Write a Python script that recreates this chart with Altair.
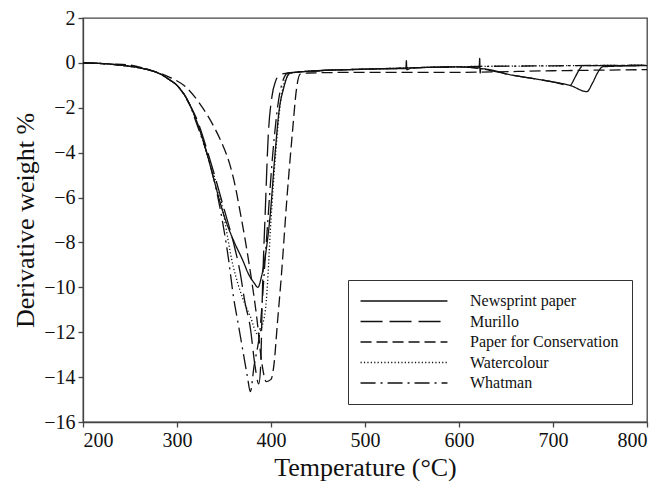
import altair as alt
import pandas as pd

series_names = ["Newsprint paper", "Murillo", "Paper for Conservation", "Watercolour", "Whatman"]
dashes = [[1, 0], [22, 7], [11, 5], [1.2, 2.2], [15, 5, 2, 5]]

x_ticks = [200, 300, 400, 500, 600, 700, 800]
y_ticks = [2, 0, -2, -4, -6, -8, -10, -12, -14, -16]

newsprint_t = [200, 220, 240, 260, 271, 280, 292, 300, 314, 320, 331, 338, 350, 360, 370, 376, 382, 386, 390, 395, 399, 404, 409, 413, 420, 450, 500, 543.5, 544, 544.5, 550, 600, 621.5, 622, 622.5, 623, 657, 675, 700, 718, 736, 742, 748, 753, 800]
newsprint_v = [0, -0.03, -0.1, -0.22, -0.32, -0.45, -0.75, -1.0, -1.9, -2.5, -3.9, -5.0, -6.8, -7.9, -8.8, -9.4, -9.8, -10.0, -9.5, -8.3, -6.85, -4.2, -2.0, -1.2, -0.45, -0.35, -0.28, -0.25, 0.1, -0.3, -0.22, -0.18, -0.22, 0.2, -0.45, -0.26, -0.55, -0.67, -0.85, -1.0, -1.28, -0.9, -0.4, -0.17, -0.12]

murillo_t = [200, 220, 240, 260, 271, 280, 292, 300, 314, 320, 335, 350, 360, 367, 372, 378, 383, 387, 389, 391, 394, 397, 401, 405, 410, 450, 500, 550, 600, 622, 657, 675, 700, 718, 724, 728, 732, 800]
murillo_v = [0, -0.03, -0.1, -0.22, -0.32, -0.45, -0.75, -1.0, -1.9, -2.4, -4.3, -6.5, -8.0, -9.3, -10.6, -11.8, -13.5, -14.3, -13.5, -10.0, -6.5, -3.3, -1.5, -0.8, -0.5, -0.35, -0.28, -0.22, -0.18, -0.25, -0.55, -0.67, -0.85, -1.0, -0.6, -0.3, -0.12, -0.12]

conservation_t = [200, 230, 250, 271, 290, 310, 324, 340, 349, 356, 362, 367, 373, 378, 385, 390, 395, 400, 403, 407, 411, 417, 423, 427, 431, 440, 500, 600, 700, 800]
conservation_v = [0, -0.05, -0.1, -0.32, -0.6, -1.1, -1.8, -2.9, -3.7, -4.5, -5.5, -6.6, -8.0, -9.3, -11.4, -13.3, -14.2, -14.1, -13.5, -11.5, -9.5, -6.0, -3.0, -1.2, -0.5, -0.45, -0.42, -0.42, -0.35, -0.3]

watercolour_t = [200, 220, 240, 260, 271, 280, 292, 300, 314, 320, 335, 345, 360, 370, 378, 386, 390, 395, 400, 405, 410, 415, 422, 450, 500, 550, 600, 700, 800]
watercolour_v = [0, -0.03, -0.1, -0.22, -0.32, -0.45, -0.75, -1.0, -1.9, -2.5, -4.5, -5.8, -9.1, -10.5, -11.3, -12.1, -11.8, -10.6, -7.0, -4.0, -1.8, -0.8, -0.45, -0.35, -0.28, -0.22, -0.17, -0.13, -0.1]

whatman_t = [200, 220, 240, 260, 271, 280, 292, 300, 314, 320, 335, 345, 355, 360, 365, 370, 375, 378, 382, 388, 395, 402, 410, 418, 450, 500, 550, 600, 700, 800]
whatman_v = [0, -0.03, -0.1, -0.22, -0.32, -0.45, -0.75, -1.0, -1.9, -2.6, -4.5, -6.3, -8.8, -10.4, -11.6, -12.8, -14.0, -14.65, -13.5, -12.0, -8.0, -4.0, -1.2, -0.45, -0.35, -0.28, -0.22, -0.17, -0.13, -0.1]

rows = []
for name, ts, vs in [
    (series_names[0], newsprint_t, newsprint_v),
    (series_names[1], murillo_t, murillo_v),
    (series_names[2], conservation_t, conservation_v),
    (series_names[3], watercolour_t, watercolour_v),
    (series_names[4], whatman_t, whatman_v),
]:
    for t, v in zip(ts, vs):
        rows.append({"series": name, "temp": t, "value": v})
df = pd.DataFrame(rows)

FONT = "Liberation Serif"

chart = alt.Chart(df).mark_line(
    color="#111111", strokeWidth=1.3, interpolate="monotone", clip=True
).encode(
    x=alt.X("temp:Q",
            scale=alt.Scale(domain=[200, 800], nice=False, zero=False),
            axis=alt.Axis(values=x_ticks, title="Temperature (°C)", grid=False,
                          titlePadding=4)),
    y=alt.Y("value:Q",
            scale=alt.Scale(domain=[-16, 2], nice=False, zero=False),
            axis=alt.Axis(values=y_ticks, title="Derivative weight %", grid=False,
                          titlePadding=5)),
    strokeDash=alt.StrokeDash(
        "series:N",
        scale=alt.Scale(domain=series_names, range=dashes),
        sort=series_names,
        legend=alt.Legend(
            title=None, orient="none", legendX=265, legendY=262,
            symbolType="M-8,0H8", symbolSize=118, symbolStrokeWidth=1.3,
            symbolStrokeColor="#111111", symbolFillColor="transparent",
            symbolOffset=35, labelOffset=58,
            labelFont=FONT, labelFontSize=16, labelColor="#111111",
            rowPadding=4.5, padding=13, strokeColor="#333333",
            fillColor="white", labelLimit=300,
        ),
    ),
).properties(
    width=564, height=404,
    autosize=alt.AutoSizeParams(type="none"),
    padding={"left": 75, "top": 10, "right": 8, "bottom": 59},
).configure_view(
    stroke="#444444", strokeWidth=1.3
).configure_axis(
    labelFont=FONT, labelFontSize=20, labelColor="#111111",
    titleFont=FONT, titleFontSize=26, titleFontWeight="normal", titleColor="#111111",
    domainColor="#444444", domainWidth=1.3, tickColor="#444444", tickWidth=1.3,
    tickSize=5, labelPadding=3,
)

chart.save("out.html", embed_options={"renderer": "svg", "actions": False})
